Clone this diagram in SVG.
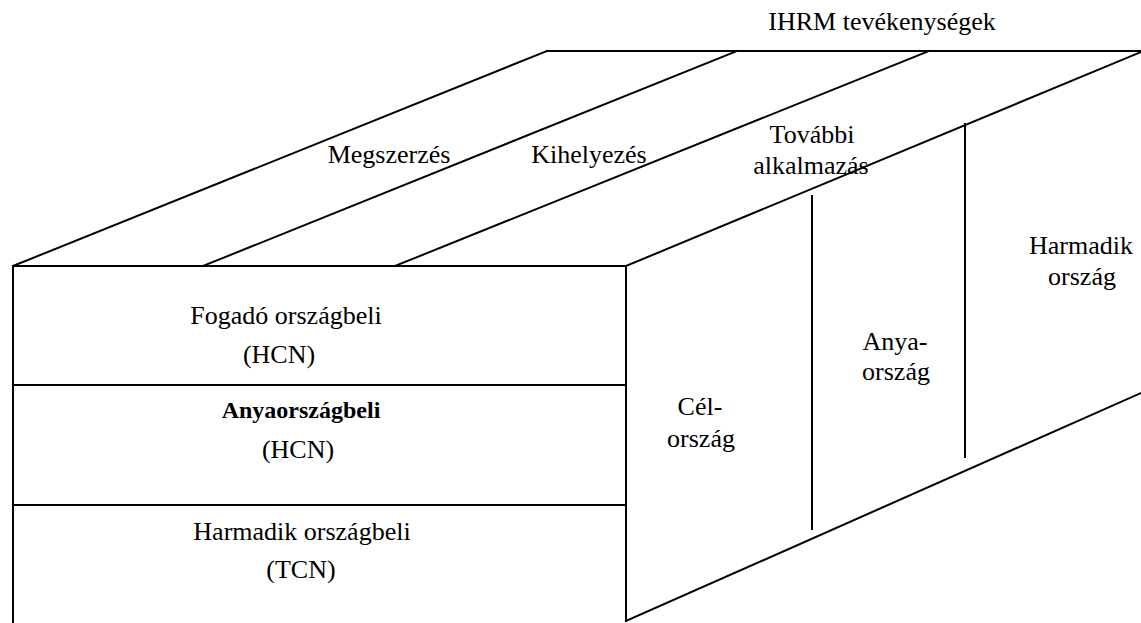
<svg xmlns="http://www.w3.org/2000/svg" width="1141" height="623" viewBox="0 0 1141 623">
  <style>
    .edge { stroke: #000; stroke-width: 2; fill: none; stroke-linecap: square; }
    .lbl { font-size: 26px; fill: #000; text-anchor: middle; }
    .bold { font-weight: bold; font-size: 24px; }
  </style>
  <rect width="1141" height="623" fill="#fff"/>

  <!-- box outline and division lines -->
  <g id="connectors">
    <!-- top face -->
    <line class="edge" x1="547" y1="51" x2="1141" y2="51"/>
    <line class="edge" x1="13" y1="266" x2="547" y2="51"/>
    <line class="edge" x1="203" y1="266" x2="737" y2="51"/>
    <line class="edge" x1="395" y1="266" x2="929" y2="51"/>
    <line class="edge" x1="626" y1="266" x2="1141" y2="52"/>
    <!-- front face -->
    <line class="edge" x1="13" y1="266" x2="626" y2="266"/>
    <line class="edge" x1="13" y1="266" x2="13" y2="625"/>
    <line class="edge" x1="626" y1="266" x2="626" y2="621"/>
    <line class="edge" x1="13" y1="385" x2="626" y2="385"/>
    <line class="edge" x1="13" y1="505" x2="626" y2="505"/>
    <!-- right face -->
    <line class="edge" x1="626" y1="621" x2="1141" y2="393"/>
    <line class="edge" x1="812" y1="196" x2="812" y2="529"/>
    <line class="edge" x1="965" y1="124" x2="965" y2="457"/>
  </g>

  <g font-family="'Liberation Serif', 'DejaVu Serif', serif">
    <g id="title">
      <text class="lbl" x="882" y="30">IHRM tevékenységek</text>
    </g>

    <!-- activities on the top face -->
    <g id="megszerzes">
      <text class="lbl" x="389" y="163">Megszerzés</text>
    </g>
    <g id="kihelyezes">
      <text class="lbl" x="589" y="163">Kihelyezés</text>
    </g>
    <g id="tovabbi-alkalmazas">
      <text class="lbl" x="812" y="143">További</text>
      <text class="lbl" x="811" y="174">alkalmazás</text>
    </g>

    <!-- employee types on the front face -->
    <g id="fogado-orszagbeli">
      <text class="lbl" x="286" y="324">Fogadó országbeli</text>
      <text class="lbl" x="279" y="363">(HCN)</text>
    </g>
    <g id="anyaorszagbeli">
      <text class="lbl bold" x="301" y="418">Anyaországbeli</text>
      <text class="lbl" x="298" y="458">(HCN)</text>
    </g>
    <g id="harmadik-orszagbeli">
      <text class="lbl" x="302" y="540">Harmadik országbeli</text>
      <text class="lbl" x="301" y="578">(TCN)</text>
    </g>

    <!-- countries on the right face -->
    <g id="cel-orszag">
      <text class="lbl" x="700" y="415">Cél-</text>
      <text class="lbl" x="701" y="447">ország</text>
    </g>
    <g id="anya-orszag">
      <text class="lbl" x="895" y="350">Anya-</text>
      <text class="lbl" x="896" y="380">ország</text>
    </g>
    <g id="harmadik-orszag">
      <text class="lbl" x="1081" y="254">Harmadik</text>
      <text class="lbl" x="1082" y="285">ország</text>
    </g>
  </g>
</svg>
